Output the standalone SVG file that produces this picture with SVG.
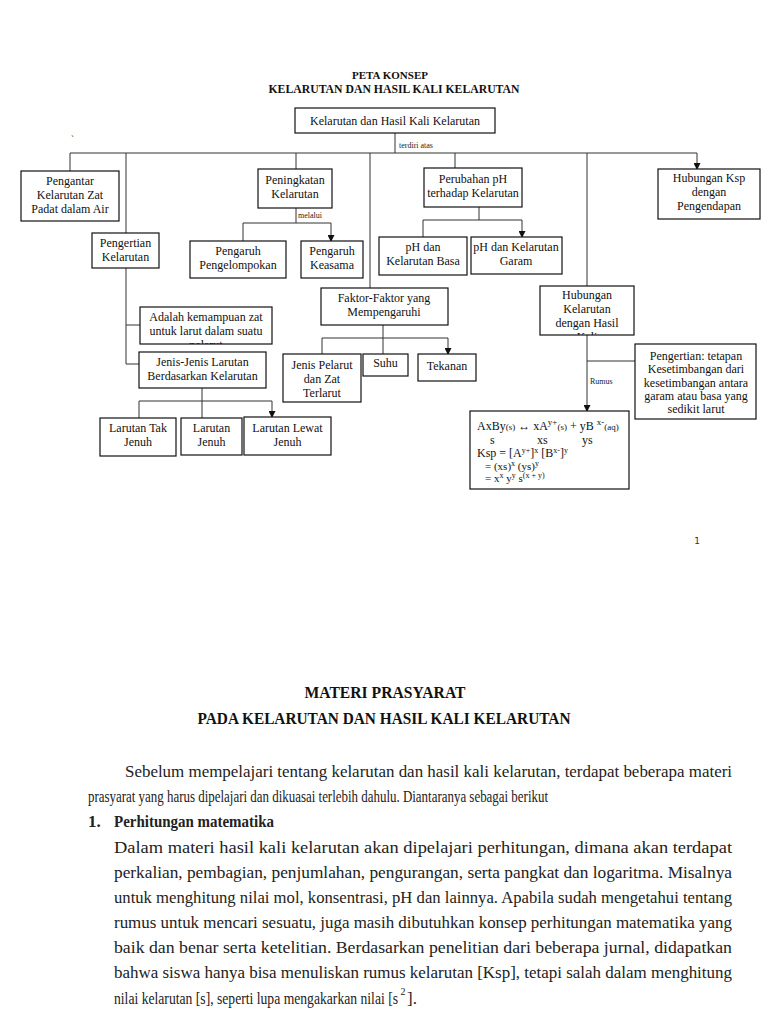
<svg xmlns="http://www.w3.org/2000/svg" width="768" height="1024" viewBox="0 0 768 1024">
<style>
.bx{fill:#fff;stroke:#111;stroke-width:1.2}
.t{font-family:"Liberation Serif","Times New Roman",serif;font-size:12px;fill:#111;text-anchor:middle}
.tl{font-family:"Liberation Serif","Times New Roman",serif;font-size:12px;fill:#111}
.sm{font-family:"Liberation Serif","Times New Roman",serif;font-size:8px;fill:#222}
.h{font-family:"Liberation Serif","Times New Roman",serif;font-weight:bold;fill:#111;text-anchor:middle}
.p{font-family:"Liberation Serif","Times New Roman",serif;font-size:17px;fill:#222}
.c{fill:none;stroke:#333;stroke-width:1}
</style>
<defs>
<marker id="ar" markerUnits="userSpaceOnUse" markerWidth="7" markerHeight="7" refX="6" refY="3.5" orient="auto"><path d="M0,0 L7,3.5 L0,7 z" fill="#111"/></marker>
<clipPath id="cpA"><rect x="140" y="307" width="132" height="37"/></clipPath>
<clipPath id="cpH"><rect x="540" y="286" width="94" height="49"/></clipPath>
</defs>
<rect width="768" height="1024" fill="#fff"/>

<text class="h" x="390" y="79" style="font-size:11px">PETA KONSEP</text>
<text class="h" x="394" y="93" style="font-size:11.5px" textLength="251" lengthAdjust="spacingAndGlyphs">KELARUTAN DAN HASIL KALI KELARUTAN</text>
<text class="sm" x="71" y="142" style="font-size:9px">`</text>

<g id="connectors">
<path class="c" d="M395,133 V153 M70,153 H697 M126,153 V233 M370,153 V288 M587,153 V286"/>
<path class="c" d="M70,153 V171 M296,153 V169 M455,153 V168 M697,153 V169" marker-end="url(#ar)"/>
<path class="c" d="M296,208 V223 M243,223 H331"/>
<path class="c" d="M243,223 V241 M331,223 V241" marker-end="url(#ar)"/>
<path class="c" d="M479,207 V220 M423,220 H522"/>
<path class="c" d="M423,220 V237 M522,220 V237" marker-end="url(#ar)"/>
<path class="c" d="M126,268 V364 M126,325 H140 M126,364 H139"/>
<path class="c" d="M139,401 H272"/>
<path class="c" d="M202,388 V418 M139,401 V418 M272,401 V417" marker-end="url(#ar)"/>
<path class="c" d="M383,325 V338 M322,338 H448"/>
<path class="c" d="M322,338 V354 M383,338 V354 M448,338 V354" marker-end="url(#ar)"/>
<path class="c" d="M587,361 H635"/>
<path class="c" d="M587,335 V411" marker-end="url(#ar)"/>
<text class="sm" x="399" y="148">terdiri atas</text>
<text class="sm" x="298" y="218">melalui</text>
<text class="sm" x="590" y="384">Rumus</text>
</g>

<g id="root"><rect class="bx" x="295" y="108" width="200" height="25"/><text class="t" x="395" y="125">Kelarutan dan Hasil Kali Kelarutan</text></g>

<g id="pengantar"><rect class="bx" x="21" y="171" width="98" height="50"/><text class="t" x="70" y="185">Pengantar</text><text class="t" x="70" y="199">Kelarutan Zat</text><text class="t" x="70" y="213">Padat dalam Air</text></g>

<g id="peningkatan"><rect class="bx" x="258" y="169" width="74" height="39"/><text class="t" x="295" y="184">Peningkatan</text><text class="t" x="295" y="198">Kelarutan</text></g>

<g id="perubahan"><rect class="bx" x="424" y="168" width="98" height="39"/><text class="t" x="473" y="183">Perubahan pH</text><text class="t" x="473" y="197">terhadap Kelarutan</text></g>

<g id="hubungan-ksp"><rect class="bx" x="658" y="169" width="102" height="50"/><text class="t" x="709" y="182">Hubungan Ksp</text><text class="t" x="709" y="196">dengan</text><text class="t" x="709" y="210">Pengendapan</text></g>

<g id="pengertian-kelarutan"><rect class="bx" x="92" y="233" width="67" height="35"/><text class="t" x="125.5" y="247">Pengertian</text><text class="t" x="125.5" y="261">Kelarutan</text></g>

<g id="pengelompokan"><rect class="bx" x="190" y="241" width="96" height="37"/><text class="t" x="238" y="255">Pengaruh</text><text class="t" x="238" y="269">Pengelompokan</text></g>

<g id="keasama"><rect class="bx" x="301" y="241" width="62" height="37"/><text class="t" x="332" y="255">Pengaruh</text><text class="t" x="332" y="269">Keasama</text></g>

<g id="ph-basa"><rect class="bx" x="379" y="237" width="88" height="38"/><text class="t" x="423" y="251">pH dan</text><text class="t" x="423" y="265">Kelarutan Basa</text></g>

<g id="ph-garam"><rect class="bx" x="471" y="237" width="91" height="37"/><text class="t" x="516" y="251">pH dan Kelarutan</text><text class="t" x="516" y="265">Garam</text></g>

<g id="faktor"><rect class="bx" x="321" y="288" width="127" height="37"/><text class="t" x="384" y="302">Faktor-Faktor yang</text><text class="t" x="384" y="316">Mempengaruhi</text></g>

<g id="hubungan-kelarutan"><rect class="bx" x="540" y="286" width="94" height="49"/><g clip-path="url(#cpH)"><text class="t" x="587" y="299">Hubungan</text><text class="t" x="587" y="313">Kelarutan</text><text class="t" x="587" y="327">dengan Hasil</text><text class="t" x="587" y="341">Kali</text></g></g>

<g id="adalah"><rect class="bx" x="140" y="307" width="132" height="37"/><g clip-path="url(#cpA)"><text class="t" x="206" y="321">Adalah kemampuan zat</text><text class="t" x="206" y="335">untuk larut dalam suatu</text><text class="t" x="206" y="349">pelarut</text></g></g>

<g id="jenis-jenis"><rect class="bx" x="139" y="352" width="127" height="36"/><text class="t" x="202.5" y="366">Jenis-Jenis Larutan</text><text class="t" x="202.5" y="380">Berdasarkan Kelarutan</text></g>

<g id="jenis-pelarut"><rect class="bx" x="283" y="354" width="78" height="48"/><text class="t" x="322" y="369">Jenis Pelarut</text><text class="t" x="322" y="383">dan Zat</text><text class="t" x="322" y="397">Terlarut</text></g>

<g id="suhu"><rect class="bx" x="363" y="354" width="45" height="22"/><text class="t" x="385.5" y="367">Suhu</text></g>

<g id="tekanan"><rect class="bx" x="418" y="354" width="58" height="27"/><text class="t" x="447" y="370">Tekanan</text></g>

<g id="pengertian-ksp"><rect class="bx" x="635" y="344" width="121" height="75"/><text class="t" x="696" y="360">Pengertian: tetapan</text><text class="t" x="696" y="373">Kesetimbangan dari</text><text class="t" x="696" y="387">kesetimbangan antara</text><text class="t" x="696" y="400">garam atau basa yang</text><text class="t" x="696" y="413">sedikit larut</text></g>

<g id="larutan-tak-jenuh"><rect class="bx" x="100" y="418" width="76" height="38"/><text class="t" x="138" y="432">Larutan Tak</text><text class="t" x="138" y="446">Jenuh</text></g>
<g id="larutan-jenuh"><rect class="bx" x="181" y="418" width="61" height="37"/><text class="t" x="211.5" y="432">Larutan</text><text class="t" x="211.5" y="446">Jenuh</text></g>
<g id="larutan-lewat-jenuh"><rect class="bx" x="244" y="417" width="87" height="38"/><text class="t" x="287.5" y="432">Larutan Lewat</text><text class="t" x="287.5" y="446">Jenuh</text></g>

<g id="rumus">
<rect class="bx" x="470" y="411" width="159" height="78"/>
<text class="tl" x="477" y="430">AxBy<tspan font-size="9">(s)</tspan> ↔ xA<tspan font-size="9" dy="-5">y+</tspan><tspan font-size="9" dy="5">(s)</tspan> + yB <tspan font-size="9" dy="-5">x-</tspan><tspan font-size="9" dy="5">(aq)</tspan></text>
<text class="tl" x="490" y="444">s</text>
<text class="tl" x="537" y="444">xs</text>
<text class="tl" x="582" y="444">ys</text>
<text class="tl" x="477" y="457">Ksp = [A<tspan font-size="8" dy="-4">y+</tspan><tspan dy="4">]</tspan><tspan font-size="8" dy="-4">x</tspan><tspan dy="4"> [B</tspan><tspan font-size="8" dy="-4">x-</tspan><tspan dy="4">]</tspan><tspan font-size="8" dy="-4">y</tspan></text>
<text class="tl" x="485" y="470" style="font-size:11px">= (xs)<tspan font-size="8" dy="-4">x</tspan><tspan dy="4"> (ys)</tspan><tspan font-size="8" dy="-4">y</tspan></text>
<text class="tl" x="485" y="482" style="font-size:11px">= x<tspan font-size="8" dy="-4">x</tspan><tspan dy="4"> y</tspan><tspan font-size="8" dy="-4">y</tspan><tspan dy="4"> s</tspan><tspan font-size="8" dy="-4">(x + y)</tspan></text>
</g>

<text x="697" y="544" font-family="'DejaVu Sans',sans-serif" font-size="9" fill="#333" text-anchor="middle">1</text>

<text class="h" x="385" y="698" style="font-size:17px" textLength="161" lengthAdjust="spacingAndGlyphs">MATERI PRASYARAT</text>
<text class="h" x="384" y="724" style="font-size:17px" textLength="373" lengthAdjust="spacingAndGlyphs">PADA KELARUTAN DAN HASIL KALI KELARUTAN</text>

<text class="p" x="125" y="777" textLength="607" lengthAdjust="spacingAndGlyphs">Sebelum mempelajari tentang kelarutan dan hasil kali kelarutan, terdapat beberapa materi</text>
<text class="p" x="88" y="802" textLength="460" lengthAdjust="spacingAndGlyphs">prasyarat yang harus dipelajari dan dikuasai terlebih dahulu. Diantaranya sebagai berikut</text>
<text class="p" x="88" y="827" font-weight="bold">1.</text>
<text class="p" x="114" y="827" font-weight="bold" textLength="160" lengthAdjust="spacingAndGlyphs">Perhitungan matematika</text>
<text class="p" x="114" y="853" textLength="618" lengthAdjust="spacingAndGlyphs">Dalam materi hasil kali kelarutan akan dipelajari perhitungan, dimana akan terdapat</text>
<text class="p" x="114" y="878" textLength="618" lengthAdjust="spacingAndGlyphs">perkalian, pembagian, penjumlahan, pengurangan, serta pangkat dan logaritma. Misalnya</text>
<text class="p" x="114" y="903" textLength="618" lengthAdjust="spacingAndGlyphs">untuk menghitung nilai mol, konsentrasi, pH dan lainnya. Apabila sudah mengetahui tentang</text>
<text class="p" x="114" y="928" textLength="618" lengthAdjust="spacingAndGlyphs">rumus untuk mencari sesuatu, juga masih dibutuhkan konsep perhitungan matematika yang</text>
<text class="p" x="114" y="953" textLength="618" lengthAdjust="spacingAndGlyphs">baik dan benar serta ketelitian. Berdasarkan penelitian dari beberapa jurnal, didapatkan</text>
<text class="p" x="114" y="978" textLength="618" lengthAdjust="spacingAndGlyphs">bahwa siswa hanya bisa menuliskan rumus kelarutan [Ksp], tetapi salah dalam menghitung</text>
<text class="p" x="114" y="1004" textLength="284" lengthAdjust="spacingAndGlyphs">nilai kelarutan [s], seperti lupa mengakarkan nilai [s</text>
<text class="p" x="400.5" y="995" style="font-size:10px">2</text>
<text class="p" x="407" y="1004">].</text>
</svg>
